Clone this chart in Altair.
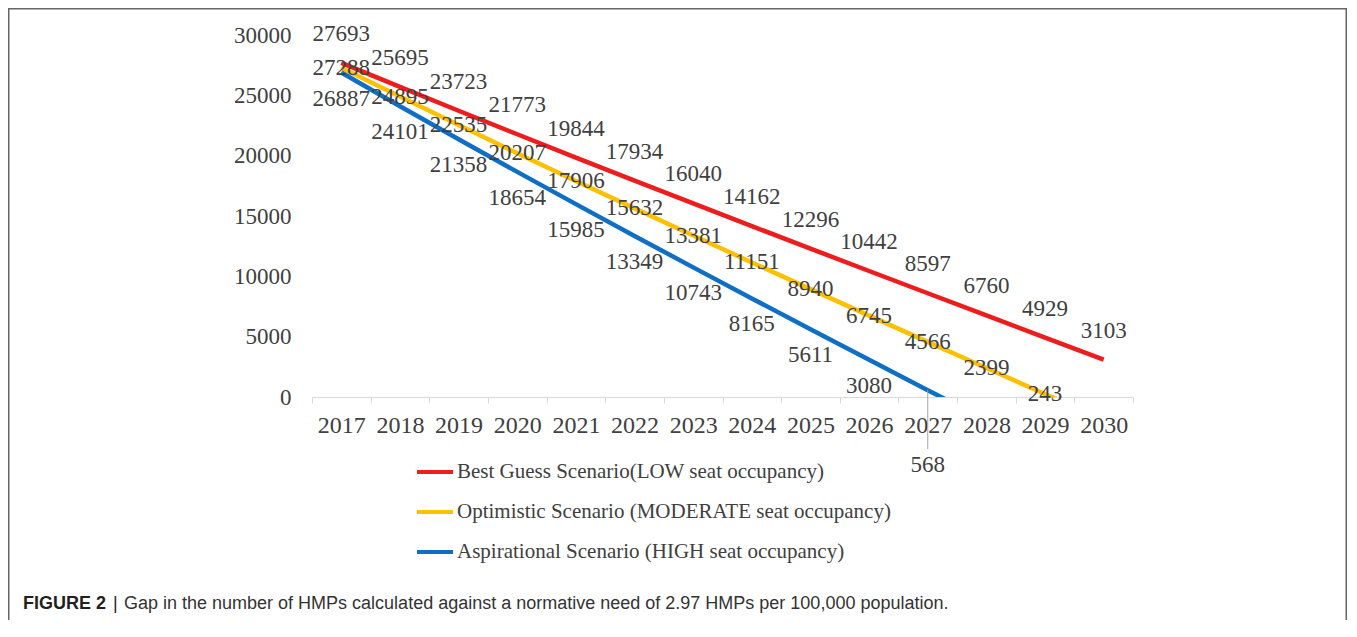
import altair as alt
import pandas as pd

# ---------------- data ----------------
years = [str(y) for y in range(2017, 2031)]
best_guess = [27693, 25695, 23723, 21773, 19844, 17934, 16040, 14162,
              12296, 10442, 8597, 6760, 4929, 3103]
optimistic = [27288, 24895, 22535, 20207, 17906, 15632, 13381, 11151,
              8940, 6745, 4566, 2399, 243, -1904]
aspirational = [26887, 24101, 21358, 18654, 15985, 13349, 10743, 8165,
                5611, 3080, 568, -1925]
series_names = [
    "Best Guess Scenario(LOW seat occupancy)",
    "Optimistic Scenario (MODERATE seat occupancy)",
    "Aspirational Scenario (HIGH seat occupancy)",
]
series_colors = ["#EE1C1C", "#FFC000", "#0F6FC6"]
y_ticks = [0, 5000, 10000, 15000, 20000, 25000, 30000]
caption_bold = "FIGURE 2"
caption_rest = "Gap in the number of HMPs calculated against a normative need of 2.97 HMPs per 100,000 population."

rows = []
for name, vals in zip(series_names, [best_guess, optimistic, aspirational]):
    for yr, v in zip(years, vals):
        rows.append({"year": yr, "value": v, "series": name})
df = pd.DataFrame(rows)

W, H = 821, 362
SERIF = "Liberation Serif"
TXT = "#404040"

x_enc = alt.X(
    "year:O",
    scale=alt.Scale(type="band", domain=years, paddingInner=0, paddingOuter=0),
    axis=alt.Axis(title=None, labelAngle=0, labelFont=SERIF, labelFontSize=24,
                  labelColor=TXT, domainColor="#D9D9D9", tickColor="#D9D9D9",
                  tickSize=6, tickBand="extent", labelPadding=10, grid=False),
)
y_enc = alt.Y(
    "value:Q",
    scale=alt.Scale(domain=[0, 30000], nice=False),
    axis=alt.Axis(title=None, values=y_ticks, format="d", domain=False,
                  ticks=False, grid=False, labelFont=SERIF, labelFontSize=23,
                  labelColor=TXT, labelPadding=21),
)

base = alt.Chart(df)

lines = base.mark_line(strokeWidth=4.5, clip=True).encode(
    x=x_enc, y=y_enc,
    color=alt.Color(
        "series:N",
        scale=alt.Scale(domain=series_names, range=series_colors),
        legend=alt.Legend(title=None, orient="none", legendX=103, legendY=417,
                          direction="vertical", symbolType="stroke",
                          symbolSize=1296, symbolStrokeWidth=4,
                          labelFont=SERIF, labelFontSize=21, labelColor=TXT,
                          labelLimit=900, rowPadding=10, labelOffset=2,
                          padding=0),
    ),
)

layers = [lines]
offsets = [-29, 0, 26]
for name, dy in zip(series_names, offsets):
    layers.append(
        base.transform_filter(
            (alt.datum.series == name) & (alt.datum.value >= 0)
            & ~((alt.datum.series == series_names[2]) & (alt.datum.year == "2027"))
        ).mark_text(font=SERIF, fontSize=23, color=TXT, dy=dy).encode(
            x=x_enc, y=y_enc, text="value:Q"
        )
    )

special = base.transform_filter(
    (alt.datum.series == series_names[2]) & (alt.datum.year == "2027")
)
layers.append(
    special.mark_rule(color="#A6A6A6", strokeWidth=1).encode(
        x=x_enc, y=y_enc, y2=alt.value(414)
    )
)
layers.append(
    special.mark_text(font=SERIF, fontSize=23, color=TXT, dy=75).encode(
        x=x_enc, y=y_enc, text="value:Q"
    )
)

cap_df = pd.DataFrame({"bold": [caption_bold], "rest": [caption_rest], "bar": ["|"]})
cap = alt.Chart(cap_df)
CAP_Y = 574
layers.append(
    cap.mark_text(font="Liberation Sans", fontSize=18, fontWeight="bold",
                  color="#231F20", align="left", baseline="alphabetic").encode(
        text="bold:N", x=alt.value(-289), y=alt.value(CAP_Y))
)
layers.append(
    cap.mark_text(font="Liberation Sans", fontSize=18, color="#231F20",
                  align="left", baseline="alphabetic").encode(
        text="bar:N", x=alt.value(-199), y=alt.value(CAP_Y))
)
layers.append(
    cap.mark_text(font="Liberation Sans", fontSize=18, color="#333333",
                  align="left", baseline="alphabetic").encode(
        text="rest:N", x=alt.value(-188), y=alt.value(CAP_Y))
)
layers.append(
    cap.mark_rect(fill="transparent", stroke="#666666", strokeWidth=1.5).encode(
        x=alt.value(-303.25), x2=alt.value(1034.25),
        y=alt.value(-26.25), y2=alt.value(800))
)

chart = alt.layer(*layers).properties(
    width=W, height=H,
    autosize=alt.AutoSizeParams(type="none"),
    padding={"left": 304, "top": 27, "right": 214, "bottom": 223},
    background="white",
).configure_view(strokeWidth=0)

chart.save("out.html", embed_options={"renderer": "svg", "actions": False})
